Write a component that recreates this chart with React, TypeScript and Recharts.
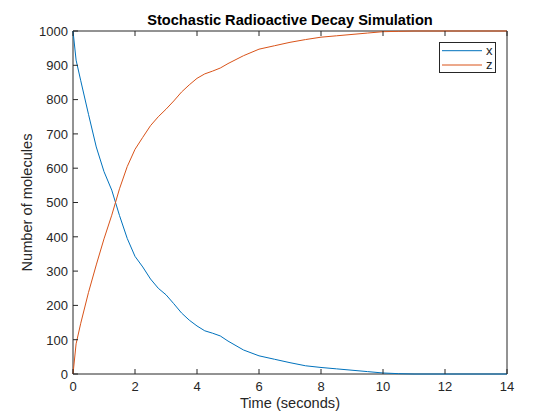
import React from 'react';
import { LineChart, Line, XAxis, YAxis, Legend, Label } from 'recharts';

// time (seconds) and molecule counts
const time = [
  0, 0.1, 0.25, 0.5, 0.75, 1, 1.25, 1.5, 1.75, 2, 2.25, 2.5, 2.75, 3, 3.25, 3.5, 3.75, 4,
  4.25, 4.5, 4.75, 5, 5.5, 6, 6.5, 7, 7.5, 8, 8.5, 9, 9.5, 10, 10.5, 11, 12, 13, 14,
];
const xCount = [
  1000, 915, 855, 757, 662, 590, 536, 462, 395, 343, 312, 277, 250, 231, 205, 178, 157, 140,
  126, 119, 111, 96, 70, 53, 43, 33, 24, 19, 15, 11, 7, 3, 1, 0, 0, 0, 0,
];
const zCount = [
  0, 88, 148, 238, 318, 394, 463, 540, 605, 655, 690, 724, 750, 772, 796, 822, 843, 862,
  875, 883, 892, 905, 928, 947, 957, 967, 975, 982, 986, 990, 994, 998, 999, 1000, 1000, 1000, 1000,
];
const xTicks = [0, 2, 4, 6, 8, 10, 12, 14];
const yTicks = [0, 100, 200, 300, 400, 500, 600, 700, 800, 900, 1000];

const data = time.map((t, i) => ({ t, x: xCount[i], z: zCount[i] }));

const ink = '#262626';
const font = '"Liberation Sans", Arial, sans-serif';
const blue = '#0072BD';
const orange = '#D95319';

// MATLAB style ticks: short marks pointing into the plot box
const BottomTick = (props: any) => {
  const { x, y, payload } = props;
  return (
    <g>
      <line x1={x} x2={x} y1={y} y2={y - 5} stroke={ink} />
      <text x={x} y={y + 16.5} textAnchor="middle" fill={ink} fontSize={13} fontFamily={font}>
        {payload.value}
      </text>
    </g>
  );
};

const LeftTick = (props: any) => {
  const { x, y, payload } = props;
  return (
    <g>
      <line x1={x} x2={x + 5} y1={y} y2={y} stroke={ink} />
      <text x={x - 5} y={y + 4.8} textAnchor="end" fill={ink} fontSize={13} fontFamily={font}>
        {payload.value}
      </text>
    </g>
  );
};

const TopTick = (props: any) => {
  const { x, y } = props;
  return <line x1={x} x2={x} y1={y} y2={y + 5} stroke={ink} />;
};

const RightTick = (props: any) => {
  const { x, y } = props;
  return <line x1={x} x2={x - 5} y1={y} y2={y} stroke={ink} />;
};

const LegendBox = () => (
  <div
    style={{
      boxSizing: 'border-box',
      width: 57,
      height: 31,
      border: `1px solid ${ink}`,
      background: '#fff',
      position: 'relative',
    }}
  >
    <svg width={57} height={31} style={{ position: 'absolute', left: -1, top: -1 }}>
      <line x1={3} x2={43} y1={8.7} y2={8.7} stroke={blue} />
      <text x={47} y={13} fill={ink} fontSize={13} fontFamily={font}>x</text>
      <line x1={3} x2={43} y1={23} y2={23} stroke={orange} />
      <text x={47} y={27} fill={ink} fontSize={13} fontFamily={font}>z</text>
    </svg>
  </div>
);

export default function App() {
  return (
    <div style={{ position: 'absolute', left: 0, top: 0, width: 560, height: 420, background: '#fff' }}>
      <LineChart width={560} height={420} data={data} margin={{ top: 30, right: 52, bottom: 0, left: 0 }}>
        <XAxis
          dataKey="t"
          type="number"
          domain={[0, 14]}
          ticks={xTicks}
          interval={0}
          height={46}
          tickLine={false}
          tickSize={0}
          tickMargin={0}
          axisLine={{ stroke: ink }}
          tick={BottomTick}
        >
          <Label
            content={(p: any) => {
              const vb = p.viewBox;
              return (
                <text x={vb.x + vb.width / 2} y={vb.y + 34} textAnchor="middle" fill={ink} fontSize={14.6} fontFamily={font}>
                  Time (seconds)
                </text>
              );
            }}
          />
        </XAxis>
        <XAxis
          xAxisId="top"
          dataKey="t"
          type="number"
          orientation="top"
          domain={[0, 14]}
          ticks={xTicks}
          interval={0}
          height={1}
          tickLine={false}
          tickSize={0}
          tickMargin={0}
          axisLine={{ stroke: ink }}
          tick={TopTick}
        >
          <Label
            content={(p: any) => {
              const vb = p.viewBox;
              return (
                <text x={vb.x + vb.width / 2} y={25} textAnchor="middle" fill="#000" fontSize={14.6} fontWeight="bold" fontFamily={font}>
                  Stochastic Radioactive Decay Simulation
                </text>
              );
            }}
          />
        </XAxis>
        <YAxis
          type="number"
          domain={[0, 1000]}
          ticks={yTicks}
          interval={0}
          width={73}
          tickLine={false}
          tickSize={0}
          tickMargin={0}
          axisLine={{ stroke: ink }}
          tick={LeftTick}
        >
          <Label
            content={(p: any) => {
              const vb = p.viewBox;
              const cy = vb.y + vb.height / 2;
              return (
                <text x={32} y={cy} transform={`rotate(-90 32 ${cy})`} textAnchor="middle" fill={ink} fontSize={14.6} fontFamily={font}>
                  Number of molecules
                </text>
              );
            }}
          />
        </YAxis>
        <YAxis
          yAxisId="right"
          orientation="right"
          type="number"
          domain={[0, 1000]}
          ticks={yTicks}
          interval={0}
          width={1}
          tickLine={false}
          tickSize={0}
          tickMargin={0}
          axisLine={{ stroke: ink }}
          tick={RightTick}
        />
        <Legend
          layout="horizontal"
          verticalAlign="middle"
          align="center"
          wrapperStyle={{ left: 439, top: 42, width: 57, height: 31 }}
          content={() => <LegendBox />}
        />
        <Line dataKey="x" name="x" stroke={blue} strokeWidth={1} dot={false} type="linear" zIndex={600} isAnimationActive={false} />
        <Line dataKey="z" name="z" stroke={orange} strokeWidth={1} dot={false} type="linear" zIndex={600} isAnimationActive={false} />
      </LineChart>
    </div>
  );
}
